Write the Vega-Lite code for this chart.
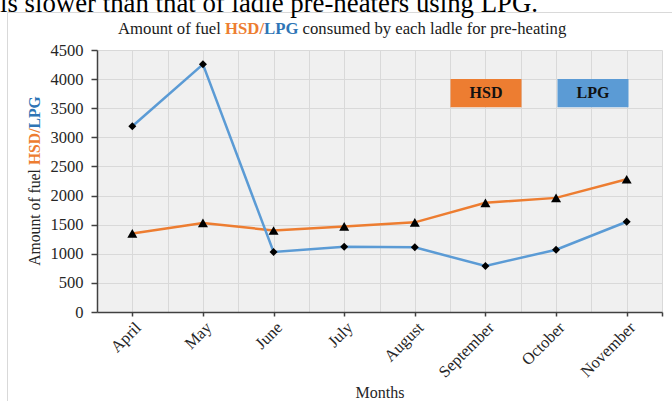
{
  "$schema": "https://vega.github.io/schema/vega-lite/v6.json",
  "width": 565,
  "height": 262,
  "autosize": {"type": "none"},
  "padding": {"left": 97, "top": 50, "right": 10, "bottom": 89},
  "background": "white",
  "config": {
    "font": "Liberation Serif",
    "view": {"fill": "#f0f0f0", "stroke": null}
  },
  "datasets": {
    "fuel": [
      {"month": "April", "i": 0, "series": "HSD", "value": 1350},
      {"month": "May", "i": 1, "series": "HSD", "value": 1530},
      {"month": "June", "i": 2, "series": "HSD", "value": 1400},
      {"month": "July", "i": 3, "series": "HSD", "value": 1470},
      {"month": "August", "i": 4, "series": "HSD", "value": 1540},
      {"month": "September", "i": 5, "series": "HSD", "value": 1875},
      {"month": "October", "i": 6, "series": "HSD", "value": 1960},
      {"month": "November", "i": 7, "series": "HSD", "value": 2280},
      {"month": "April", "i": 0, "series": "LPG", "value": 3190},
      {"month": "May", "i": 1, "series": "LPG", "value": 4255},
      {"month": "June", "i": 2, "series": "LPG", "value": 1030},
      {"month": "July", "i": 3, "series": "LPG", "value": 1120},
      {"month": "August", "i": 4, "series": "LPG", "value": 1110},
      {"month": "September", "i": 5, "series": "LPG", "value": 790},
      {"month": "October", "i": 6, "series": "LPG", "value": 1070},
      {"month": "November", "i": 7, "series": "LPG", "value": 1550}
    ]
  },
  "layer": [
    {
      "data": {"values": [{}]},
      "mark": {"type": "rect", "fill": "transparent", "stroke": "#d9d9d9", "strokeWidth": 1, "x": -89.5, "x2": 700, "y": -37.5, "y2": 500},
      "encoding": {}
    },
    {
      "data": {"name": "fuel"},
      "mark": {"type": "line", "strokeWidth": 2.5},
      "encoding": {
        "x": {
          "field": "i", "type": "quantitative",
          "scale": {"domain": [-0.5, 7.5], "nice": false, "zero": false},
          "axis": {
            "values": [-0.5, 0, 0.5, 1, 1.5, 2, 2.5, 3, 3.5, 4, 4.5, 5, 5.5, 6, 6.5, 7, 7.5],
            "tickCount": 40,
            "labelExpr": "datum.value % 1 == 0 ? ['April','May','June','July','August','September','October','November'][datum.value] : ''",
            "labelAngle": -45,
            "labelFontSize": 16.5,
            "labelColor": "#262626",
            "labelPadding": 3,
            "labelOverlap": false,
            "labelFlush": false,
            "labelBound": false,
            "tickSize": 4,
            "tickColor": "#404040",
            "tickWidth": 1.5,
            "tickOpacity": {"condition": {"test": "datum.value % 1 != 0 && datum.value < 7", "value": 0}, "value": 1},
            "domainColor": "#404040",
            "domainWidth": 1.5,
            "grid": true,
            "gridColor": "#d9d9d9",
            "gridWidth": 1,
            "title": "Months",
            "titleFont": "Liberation Serif",
            "titleFontSize": 16,
            "titleFontWeight": "normal",
            "titleColor": "#262626",
            "titleBaseline": "alphabetic",
            "titleY": 85
          }
        },
        "y": {
          "field": "value", "type": "quantitative",
          "scale": {"domain": [0, 4500], "nice": false},
          "axis": {
            "values": [0, 500, 1000, 1500, 2000, 2500, 3000, 3500, 4000, 4500],
            "tickCount": 30,
            "format": "d",
            "labelFontSize": 16.5,
            "labelColor": "#262626",
            "labelPadding": 8,
            "labelOverlap": false,
            "labelBound": false,
            "labelFlush": false,
            "tickSize": 6,
            "tickColor": "#404040",
            "tickWidth": 1.5,
            "domainColor": "#404040",
            "domainWidth": 1.5,
            "grid": true,
            "gridColor": "#d9d9d9",
            "gridWidth": 1,
            "title": null
          }
        },
        "color": {
          "field": "series", "type": "nominal",
          "scale": {"domain": ["HSD", "LPG"], "range": ["#ED7D31", "#5B9BD5"]},
          "legend": {
            "orient": "none",
            "legendX": 375,
            "legendY": -7,
            "direction": "horizontal",
            "title": null,
            "padding": 0,
            "symbolType": "stroke",
            "symbolSize": 5041,
            "symbolStrokeWidth": 28.4,
            "symbolOpacity": 1,
            "symbolOffset": -36,
            "columnPadding": -200,
            "labelFont": "Liberation Serif",
            "labelFontSize": 16,
            "labelFontWeight": "bold",
            "labelColor": "#111111",
            "labelAlign": "center",
            "labelBaseline": "middle",
            "labelOffset": -50
          }
        }
      }
    },
    {
      "data": {"name": "fuel"},
      "transform": [{"filter": "datum.series == 'HSD'"}],
      "mark": {"type": "point", "shape": "triangle-up", "size": 100, "filled": true, "color": "black", "opacity": 1},
      "encoding": {
        "x": {"field": "i", "type": "quantitative"},
        "y": {"field": "value", "type": "quantitative"}
      }
    },
    {
      "data": {"name": "fuel"},
      "transform": [{"filter": "datum.series == 'LPG'"}],
      "mark": {"type": "point", "shape": "diamond", "size": 64, "filled": true, "color": "black", "opacity": 1},
      "encoding": {
        "x": {"field": "i", "type": "quantitative"},
        "y": {"field": "value", "type": "quantitative"}
      }
    },
    {
      "data": {"values": [{}]},
      "mark": {"type": "text", "text": "is slower than that of ladle pre-heaters using LPG.", "align": "left", "baseline": "alphabetic", "font": "Liberation Serif", "fontSize": 26.8, "color": "#000000", "x": -97, "y": -38},
      "encoding": {}
    },
    {
      "data": {"values": [{}]},
      "mark": {"type": "text", "text": "Amount of fuel", "align": "left", "baseline": "alphabetic", "font": "Liberation Serif", "fontSize": 16.7, "color": "#1a1a1a", "x": 21, "y": -16.5},
      "encoding": {}
    },
    {
      "data": {"values": [{}]},
      "mark": {"type": "text", "text": "HSD/", "align": "left", "baseline": "alphabetic", "font": "Liberation Serif", "fontSize": 16.7, "fontWeight": "bold", "color": "#ED7D31", "x": 128.1, "y": -16.5},
      "encoding": {}
    },
    {
      "data": {"values": [{}]},
      "mark": {"type": "text", "text": "LPG", "align": "left", "baseline": "alphabetic", "font": "Liberation Serif", "fontSize": 16.7, "fontWeight": "bold", "color": "#2E75B6", "x": 167.1, "y": -16.5},
      "encoding": {}
    },
    {
      "data": {"values": [{}]},
      "mark": {"type": "text", "text": "consumed by each ladle for pre-heating", "align": "left", "baseline": "alphabetic", "font": "Liberation Serif", "fontSize": 16.7, "color": "#1a1a1a", "x": 205.6, "y": -16.5},
      "encoding": {}
    },
    {
      "data": {"values": [{}]},
      "mark": {"type": "text", "text": "Amount of fuel", "angle": 270, "align": "left", "baseline": "middle", "font": "Liberation Serif", "fontSize": 15.7, "color": "#262626", "x": -62, "y": 215.8},
      "encoding": {}
    },
    {
      "data": {"values": [{}]},
      "mark": {"type": "text", "text": "HSD/", "angle": 270, "align": "left", "baseline": "middle", "font": "Liberation Serif", "fontSize": 15.7, "fontWeight": "bold", "color": "#ED7D31", "x": -62, "y": 115.1},
      "encoding": {}
    },
    {
      "data": {"values": [{}]},
      "mark": {"type": "text", "text": "LPG", "angle": 270, "align": "left", "baseline": "middle", "font": "Liberation Serif", "fontSize": 15.7, "fontWeight": "bold", "color": "#2E75B6", "x": -62, "y": 78.5},
      "encoding": {}
    }
  ]
}
